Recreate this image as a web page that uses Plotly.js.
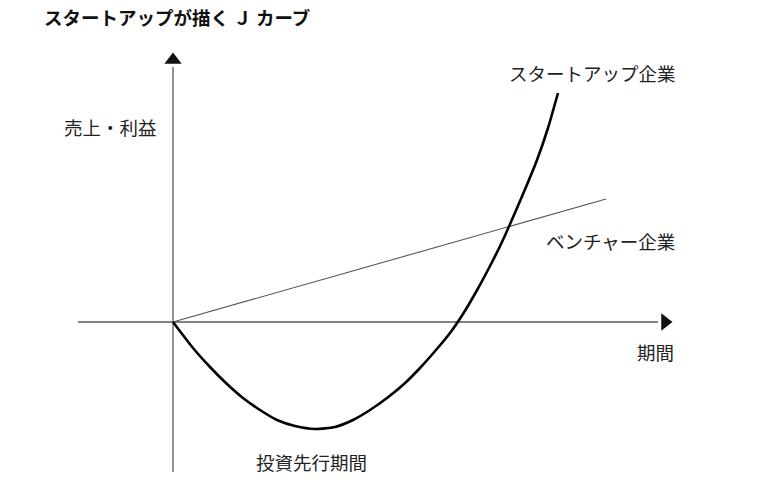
<!DOCTYPE html>
<html>
<head>
<meta charset="utf-8">
<script src="https://cdn.plot.ly/plotly-3.0.1.min.js"></script>
<style>
  html, body { margin: 0; padding: 0; background: #fff; }
  #chart { width: 768px; height: 499px; }
</style>
</head>
<body>
<div id="chart"></div>
<script>
// Startup J-curve: time on x, revenue / profit on y
const startupT = [0, 2, 3.7, 5.4, 7, 8.7, 10.4, 12.2, 14.2, 16.2, 18, 19.7, 21.4, 23.1,
                  24.7, 26.3, 27.7, 29, 30.3, 31.6, 32.9, 34.1, 35.3, 36.4, 37.5, 38.5];
const startupY = [0, -2.6, -4.5, -6.2, -7.6, -8.8, -9.8, -10.4, -10.7, -10.5, -9.8, -8.8, -7.6, -6.2,
                  -4.6, -2.8, -1.1, 0.8, 3.0, 5.4, 8.0, 10.7, 13.5, 16.2, 19.4, 22.9];

// Venture company: steady linear growth
const ventureT = [0, 43.3];
const ventureY = [0, 12.3];

// Axis extents (arrows at the positive ends)
const hAxisT = [-9.5, 48.5];
const vAxisY = [-15, 25.5];

const labels = {
  title: 'スタートアップが描く Ｊ カーブ',
  yLabel: '売上・利益',
  xLabel: '期間',
  startup: 'スタートアップ企業',
  venture: 'ベンチャー企業',
  invest: '投資先行期間'
};

const FONT = '"Noto Sans CJK JP", "Noto Sans", sans-serif';
const axisColor = '#5a5a5a';

const traces = [
  { // horizontal axis
    x: hAxisT, y: [0, 0], mode: 'lines',
    line: { color: axisColor, width: 1.3 }, hoverinfo: 'skip'
  },
  { // vertical axis
    x: [0, 0], y: vAxisY, mode: 'lines',
    line: { color: axisColor, width: 1.3 }, hoverinfo: 'skip'
  },
  { // arrow heads
    x: [hAxisT[1] + 0.7, 0], y: [0, vAxisY[1] + 0.7], mode: 'markers',
    marker: { symbol: ['triangle-right', 'triangle-up'], size: 15, color: '#111' },
    hoverinfo: 'skip'
  },
  { // venture line
    x: ventureT, y: ventureY, mode: 'lines',
    line: { color: '#555', width: 1.1 }, hoverinfo: 'skip'
  },
  { // startup J-curve
    x: startupT, y: startupY, mode: 'lines',
    line: { color: '#000', width: 2.6, shape: 'spline', smoothing: 0.6 },
    hoverinfo: 'skip'
  }
];

const labelFont = { family: FONT, size: 18.5, color: '#222' };
function label(text, x, y) {
  return { text: text, x: x, y: y, xref: 'x', yref: 'y', showarrow: false,
           xanchor: 'center', yanchor: 'middle', font: labelFont };
}

const layout = {
  width: 768, height: 499,
  margin: { l: 0, r: 0, t: 0, b: 0 },
  paper_bgcolor: '#fff', plot_bgcolor: '#fff',
  showlegend: false, hovermode: false,
  title: {
    text: '<b>' + labels.title + '</b>',
    x: 44 / 768, xanchor: 'left', xref: 'paper',
    y: 1 - 19 / 499, yanchor: 'middle',
    font: { family: FONT, size: 18.5, color: '#111' }
  },
  xaxis: { range: [-17.3, 59.5], visible: false, showgrid: false, zeroline: false, fixedrange: true },
  yaxis: { range: [-17.7, 32.2], visible: false, showgrid: false, zeroline: false, fixedrange: true },
  annotations: [
    label(labels.yLabel, -6.3, 19.5),
    label(labels.startup, 41.9, 24.9),
    label(labels.venture, 43.7, 8.1),
    label(labels.xLabel, 48.2, -3.0),
    label(labels.invest, 13.8, -14.0)
  ]
};

Plotly.newPlot('chart', traces, layout, { staticPlot: true, displayModeBar: false });
</script>
</body>
</html>
